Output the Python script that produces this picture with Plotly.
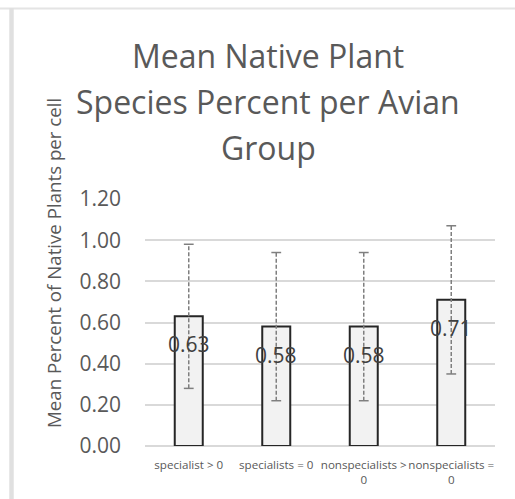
import plotly.graph_objects as go

categories = ["specialist > 0", "specialists = 0", "nonspecialists ><br>0", "nonspecialists =<br>0"]
means = [0.63, 0.58, 0.58, 0.71]
errors = [0.35, 0.36, 0.36, 0.36]
value_labels = ["0.63", "0.58", "0.58", "0.71"]
y_ticks = [0.0, 0.2, 0.4, 0.6, 0.8, 1.0, 1.2]
y_tick_labels = ["0.00", "0.20", "0.40", "0.60", "0.80", "1.00", "1.20"]
title_lines = ["Mean Native Plant", "Species Percent per Avian", "Group"]
y_title = "Mean Percent of Native Plants per cell"

FONT = "Open Sans"
GREY = "#595959"

fig = go.Figure()
fig.add_trace(go.Bar(
    x=categories, y=means, width=0.32,
    marker=dict(color="#f2f2f2", line=dict(color="#262626", width=2)),
    hoverinfo="skip", showlegend=False,
))

# dashed error bars
for c, m, e in zip(categories, means, errors):
    fig.add_trace(go.Scatter(
        x=[c, c], y=[m - e, m + e], mode="lines+markers",
        line=dict(color="#7f7f7f", width=1.5, dash="4px,2px"),
        marker=dict(symbol="line-ew", size=7, line=dict(color="#7f7f7f", width=1.5)),
        hoverinfo="skip", showlegend=False,
    ))

for c, m, t in zip(categories, means, value_labels):
    fig.add_annotation(x=c, y=m, text=t, showarrow=False, yshift=-28,
                       font=dict(family=FONT, size=21, color="#404040"))

def px_x(p):
    return (p - 145) / 350

def px_y(p):
    return (446 - p) / 247

# title lines (centres at these pixel rows)
for line, cy in zip(title_lines, [55, 101, 147]):
    fig.add_annotation(xref="paper", yref="paper", x=px_x(268), y=px_y(cy),
                       xanchor="center", yanchor="middle", text=line, showarrow=False,
                       font=dict(family=FONT, size=32, color=GREY))

fig.add_annotation(xref="paper", yref="paper", x=px_x(53), y=px_y(263),
                   xanchor="center", yanchor="middle", text=y_title, textangle=-90,
                   showarrow=False, font=dict(family=FONT, size=18.7, color=GREY))

shapes = [
    dict(type="line", xref="paper", yref="paper", x0=px_x(0), x1=px_x(515), y0=px_y(8.5), y1=px_y(8.5),
         line=dict(color="#e4e4e4", width=2)),
    dict(type="line", xref="paper", yref="paper", x0=px_x(11.5), x1=px_x(11.5), y0=px_y(8), y1=px_y(500),
         line=dict(color="#e0e0e0", width=4.5)),
]

fig.update_layout(
    width=515, height=499,
    margin=dict(l=145, r=20, t=199, b=53, autoexpand=False),
    paper_bgcolor="white", plot_bgcolor="white",
    font=dict(family=FONT, color=GREY),
    shapes=shapes,
    bargap=0.68,
    xaxis=dict(showgrid=False, showline=False, ticks="", automargin=False, tickangle=0,
               ticklabelstandoff=10,
               tickfont=dict(family=FONT, size=11.6, color=GREY), fixedrange=True),
    yaxis=dict(range=[0, 1.2], tickvals=y_ticks, ticktext=y_tick_labels, automargin=False,
               showgrid=True, gridcolor="#d9d9d9", gridwidth=1.5,
               zeroline=True, zerolinecolor="#d9d9d9", zerolinewidth=1.5,
               showline=False, ticks="", ticklabelstandoff=23,
               tickfont=dict(family=FONT, size=21, color=GREY)),
)

fig.write_html("out.html", config={"displayModeBar": False},
               post_script="document.body.style.margin='0';document.body.style.overflow='hidden';")
